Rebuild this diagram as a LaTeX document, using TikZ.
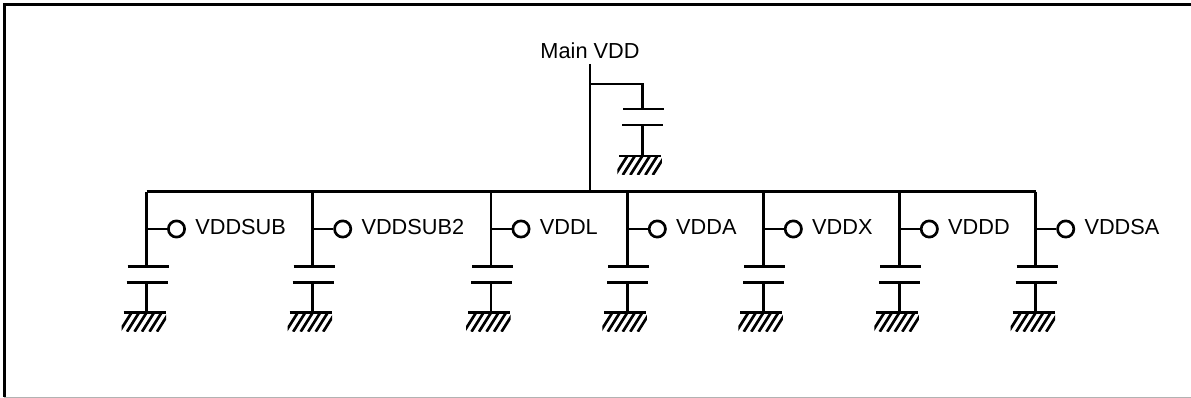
\documentclass[tikz,border=0pt]{standalone}
\usepackage{fontspec}
\setmainfont{Liberation Sans}
\begin{document}
\begin{tikzpicture}[x=0.75pt,y=-0.75pt, line width=2pt,
  term/.style={circle, draw, line width=2pt, minimum size=12.2pt, inner sep=0pt, fill=white},
  lbl/.style={font=\fontsize{16.3}{19}\selectfont, inner sep=0pt, anchor=base west},
  gnd/.pic={
    \draw (-23,0) -- (19,0);
    \begin{scope}
      \clip (-25,0) rectangle (19.5,19);
      \foreach \t in {-15,-7.5,...,27} \draw (\t,0) -- ++(-12,19);
    \end{scope}
  },
  capa/.pic={
    \draw (-19,0) -- (22,0);
    \draw (-20,16) -- (21,16);
  }
]
\useasboundingbox (0,0) rectangle (1191,398);
% frame
\draw[line width=1.8pt] (4.5,397) -- (4.5,4.5) -- (1191,4.5);
\draw[gray!60, line width=0.8pt] (4,397.3) -- (1191,397.3);

% main supply
\node[lbl, anchor=base] (main) at (590,58.3) {Main VDD};
\coordinate (mtop) at (590,64);
\coordinate (mbus) at (590,191.7);
\coordinate (mtap) at (590,84);
\coordinate (mc) at (642.3,84);
\coordinate (mp1) at (642.3,109);
\coordinate (mp2) at (642.3,125);
\coordinate (mg) at (642.3,156);
\draw (mtop) -- (mbus);
\draw (mtap) -- (mc) -- (mp1);
\pic at (mp1) {capa};
\draw (mp2) -- (mg);
\pic at (mg) {gnd};

% branches
\foreach \x/\name [count=\i] in {146.5/VDDSUB, 312.7/VDDSUB2, 491/VDDL, 627.3/VDDA, 763.3/VDDX, 899.3/VDDD, 1035.7/VDDSA} {
  \coordinate (b\i) at (\x,191.7);
  \coordinate (s\i) at (\x,229);
  \coordinate (p\i) at (\x,266.7);
  \coordinate (q\i) at (\x,282.7);
  \coordinate (g\i) at (\x,312.7);
  \node[term] (t\i) at (\x+30,229) {};
  \node[lbl] (l\i) at (\x+47.5,235) {\name};
  \draw (b\i) -- (p\i);
  \draw (s\i) -- (t\i.west);
  \pic at (p\i) {capa};
  \draw (q\i) -- (g\i);
  \pic at (g\i) {gnd};
}
\draw (b1) -- (b7);
\end{tikzpicture}
\end{document}
